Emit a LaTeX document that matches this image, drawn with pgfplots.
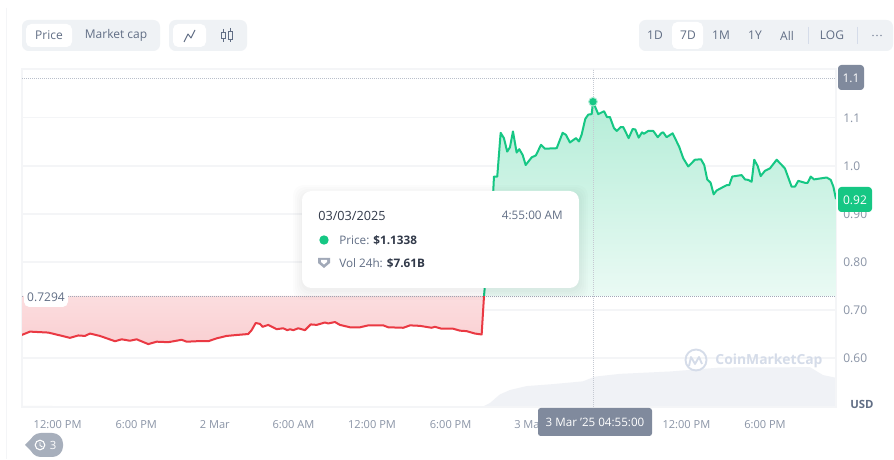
\documentclass[border=0pt]{standalone}
\usepackage{fontspec}
\setmainfont{Open Sans}[BoldFont={Open Sans Bold}]
\usepackage{pgfplots}
\usepackage{pgfplotstable}
\pgfplotsset{compat=1.18}
\definecolor{upgreen}{HTML}{16C784}
\definecolor{downred}{HTML}{EA3943}
\definecolor{txt}{HTML}{616E85}
\definecolor{txtl}{HTML}{8A94A6}
\definecolor{dark}{HTML}{323A4A}
\definecolor{pill}{HTML}{EFF2F5}
\definecolor{volc}{HTML}{F0F2F6}
\definecolor{gridc}{HTML}{F4F5F7}
\definecolor{tag}{HTML}{808A9D}
\definecolor{wm}{HTML}{D5DCE9}
\pgfplotstableread{
h p
9.31 0.648
9.94 0.655
11.34 0.653
12.10 0.648
12.99 0.642
13.63 0.647
14.14 0.646
14.52 0.651
15.28 0.646
16.43 0.635
16.94 0.639
17.57 0.636
18.08 0.639
18.97 0.629
19.61 0.634
20.50 0.633
21.52 0.638
21.90 0.634
22.66 0.635
23.55 0.635
24.19 0.641
24.95 0.646
25.72 0.648
26.60 0.650
26.86 0.658
27.17 0.673
27.50 0.671
27.70 0.665
28.13 0.669
28.77 0.660
29.27 0.662
29.58 0.658
29.79 0.660
30.04 0.658
30.42 0.662
30.93 0.658
31.37 0.670
31.82 0.669
32.46 0.674
32.71 0.672
33.22 0.675
33.60 0.669
34.37 0.664
35.13 0.664
35.76 0.668
36.91 0.668
37.29 0.664
38.44 0.663
38.95 0.668
39.71 0.667
40.60 0.663
40.85 0.665
41.37 0.661
42.25 0.661
42.76 0.657
43.27 0.656
43.91 0.651
44.42 0.649
44.60 0.7294
}\redtable
\pgfplotstableread{
h p
44.60 0.7294
45.31 0.950
45.36 0.978
45.61 0.978
45.87 1.069
46.12 1.058
46.37 1.030
46.58 1.039
46.81 1.072
47.09 1.028
47.29 1.035
47.55 1.023
47.78 1.002
48.24 1.018
48.56 1.022
48.95 1.044
49.25 1.036
50.15 1.037
50.60 1.069
50.85 1.065
51.16 1.049
51.62 1.058
51.85 1.051
52.05 1.065
52.33 1.098
52.56 1.107
52.82 1.108
52.92 1.1338
53.32 1.108
53.76 1.114
53.98 1.102
54.21 1.102
54.52 1.079
54.73 1.073
55.03 1.081
55.23 1.081
55.64 1.058
55.95 1.077
56.15 1.076
56.41 1.059
56.66 1.070
56.81 1.067
57.14 1.073
57.52 1.073
57.86 1.060
58.16 1.069
58.28 1.070
58.54 1.060
59.00 1.068
59.50 1.040
59.81 1.016
60.19 0.999
60.70 1.013
61.16 1.014
61.41 1.002
61.64 0.972
61.90 0.965
62.13 0.941
62.36 0.949
63.12 0.960
63.32 0.960
63.55 0.978
64.27 0.981
64.52 0.972
64.77 0.971
65.03 0.967
65.23 1.013
65.49 1.000
65.72 0.979
66.05 0.990
66.43 0.995
66.94 1.013
67.57 0.995
68.08 0.957
68.34 0.957
68.59 0.969
69.10 0.965
69.31 0.965
69.54 0.978
69.79 0.972
70.76 0.976
71.07 0.971
71.27 0.957
71.47 0.931
}\greentable
\pgfplotstableread{
h v
9.33 0.3
11.5 0.3
12.0 0.15
44.0 0.05
44.52 0.1
45.05 1.0
45.82 3.2
46.58 4.3
47.85 5.3
49.86 5.8
52.15 6.5
53.07 7.7
54.98 8.4
58.79 9.0
62.61 10.0
69.48 10.1
70.47 8.1
71.47 7.4
}\voltable
\newcommand{\fs}[1]{\fontsize{#1}{#1}\selectfont}
\begin{document}
\begin{tikzpicture}[x=0.75pt,y=-0.75pt]
\fill[white] (0,0) rectangle (894,459);
\draw[color=gridc,line width=0.6pt] (6,8) -- (6,459);
% volume axis
\begin{axis}[at={(16.5pt,-305.25pt)},anchor=south west,scale only axis,width=610.5pt,height=253.5pt,
  xmin=9.33,xmax=71.47,ymin=0,ymax=85.7,hide axis]
\addplot[draw=none,fill=volc] table[x=h,y=v]{\voltable} \closedcycle;
\end{axis}
% price axis
\begin{axis}[at={(16.5pt,-305.25pt)},anchor=south west,scale only axis,width=610.5pt,height=253.5pt,
  xmin=9.33,xmax=71.47,ymin=0.498,ymax=1.202,
  axis line style={color=gridc,line width=0.8pt},
  tick style={draw=none},
  xtick={12,18,24,30,36,42,48,60,66},
  xticklabels={12:00 PM,6:00 PM,2 Mar,6:00 AM,12:00 PM,6:00 PM,3 Mar,12:00 PM,6:00 PM},
  ytick={0.6,0.7,0.8,0.9,1.0,1.1},
  yticklabels={0.60,0.70,0.80,0.90,1.0,1.1},
  yticklabel pos=right,
  ymajorgrids,
  grid style={color=gridc,line width=0.8pt},
  xticklabel style={font=\fs{8.3},color=txtl,anchor=center,yshift=-13pt,xshift=0.5pt},
  yticklabel style={font=\fs{9},color=txtl,anchor=west,xshift=2pt},
  /pgf/number format/assume math mode=true]
\addplot[draw=none,top color=upgreen!32!white,bottom color=upgreen!9!white]
  table[x=h,y=p]{\greentable} -- (axis cs:71.47,0.7294) -- cycle;
\addplot[draw=none,top color=downred!17!white,bottom color=downred!24!white]
  table[x=h,y=p]{\redtable} -- (axis cs:9.31,0.7294) -- cycle;
\addplot[color=txtl!60,densely dotted,line width=0.5pt] coordinates {(9.33,1.183) (71.47,1.183)};
\addplot[color=txtl!80,densely dotted,line width=0.5pt] coordinates {(9.33,0.7294) (71.47,0.7294)};
\addplot[color=txtl!50,densely dotted,line width=0.5pt] coordinates {(52.92,0.498) (52.92,1.202)};
\addplot[color=downred,line width=1.5pt,line join=round] table[x=h,y=p]{\redtable};
\addplot[color=upgreen,line width=1.5pt,line join=round] table[x=h,y=p]{\greentable};
\addplot[only marks,mark=*,mark size=3.4pt,color=upgreen!35!white,mark options={draw=none}] coordinates {(52.92,1.1338)};
\addplot[only marks,mark=*,mark size=2.5pt,color=upgreen,mark options={draw=none}] coordinates {(52.92,1.1338)};
\end{axis}
% watermark
\draw[wm,line width=1.4pt] (696,360) circle (10.5);
\draw[wm,line width=1.4pt,line join=round] (689,366) -- (691,357) -- (695,364) -- (699,357) -- (702,364);
\node[anchor=center,font=\fs{10.4}\bfseries,text=wm] at (769,361) {CoinMarketCap};
% top-left controls
\fill[pill,rounded corners=5pt] (22,20) rectangle (160,51);
\fill[white,rounded corners=4pt] (26,24) rectangle (72,47);
\node[font=\fs{9},text=txt] at (49,35) {Price};
\node[font=\fs{9},text=txt] at (116,35) {Market cap};
\fill[pill,rounded corners=5pt] (169,20) rectangle (247,51);
\fill[white,rounded corners=4pt] (173,24) rectangle (206,47);
\draw[txt,line width=0.7pt,line join=round] (184,42) -- (188,34) -- (191,38) -- (195,30);
\draw[txt,line width=0.7pt] (221,32.5) rectangle (225,38.5);
\draw[txt,line width=0.7pt] (223,29) -- (223,32.5) (223,38.5) -- (223,42);
\draw[txt,line width=0.7pt] (228,31) rectangle (232,39);
\draw[txt,line width=0.7pt] (230,28) -- (230,31) (230,39) -- (230,42);
% top-right controls
\fill[pill,rounded corners=5pt] (639,20) rectangle (893,51);
\fill[white,rounded corners=4pt] (672,22) rectangle (703,49);
\foreach \x/\t in {655/1D,688/7D,721/1M,755/1Y,787/All,832/LOG}{\node[font=\fs{9},text=txt] at (\x,35.5) {\t};}
\draw[color=wm,line width=0.6pt] (808,27) -- (808,44) (857,27) -- (857,44);
\foreach \x in {873,877,881}{\fill[txtl] (\x,35.5) circle (0.8);}
% price tags
\fill[tag,rounded corners=2.5pt] (838,65) rectangle (864,90);
\node[font=\fs{9},text=white] at (851,78) {1.1};
\fill[upgreen,rounded corners=2.5pt] (838,187) rectangle (872,212);
\node[font=\fs{9},text=white] at (855,200) {0.92};
\node[font=\fs{8.5}\bfseries,text=txt] at (862,404) {USD};
\fill[white,rounded corners=4pt] (24,288) rectangle (68,307);
\node[font=\fs{9},text=txt] at (46,297) {0.7294};
% date tag
\fill[tag,rounded corners=2pt] (538,408) rectangle (652,436);
\node[font=\fs{8.7},text=white] at (595,422) {3 Mar '25 04:55:00};
% tooltip
\foreach \d in {9,7,5,3,1}{\fill[black,opacity=0.012,rounded corners=8pt] (302-\d,191-\d+3) rectangle (579+\d,288+\d+3);}
\fill[white,rounded corners=7pt] (302,191) rectangle (579,288);
\node[anchor=west,font=\fs{9.5},text=dark,inner sep=0pt] at (318,215.5) {03/03/2025};
\node[anchor=east,font=\fs{8.8},text=txt,inner sep=0pt] at (563,215.5) {4:55:00 AM};
\fill[upgreen] (324,240) circle (4.7);
\node[anchor=west,font=\fs{8.8},text=txt,inner sep=0pt] at (339,240.5) {Price: \textcolor{dark}{\textbf{\$1.1338}}};
\fill[txtl!80] (318,258) -- (330,258) -- (330,263) -- (324,268) -- (318,263) -- cycle;
\fill[white] (321,260) -- (327,260) -- (327,262) -- (324,264.5) -- (321,262) -- cycle;
\node[anchor=west,font=\fs{8.8},text=txt,inner sep=0pt] at (339,263.5) {Vol 24h: \textcolor{dark}{\textbf{\$7.61B}}};
% history bubble
\fill[txtl!75,rounded corners=8pt] (30,433) rectangle (63,457);
\fill[txtl!75] (25,445) -- (33,437) -- (33,453) -- cycle;
\draw[white,line width=0.8pt] (40,445) circle (4.8);
\draw[white,line width=0.7pt] (40,442) -- (40,445.5) -- (42.5,447);
\node[font=\fs{8.5},text=white] at (53,445) {3};
\end{tikzpicture}
\end{document}
